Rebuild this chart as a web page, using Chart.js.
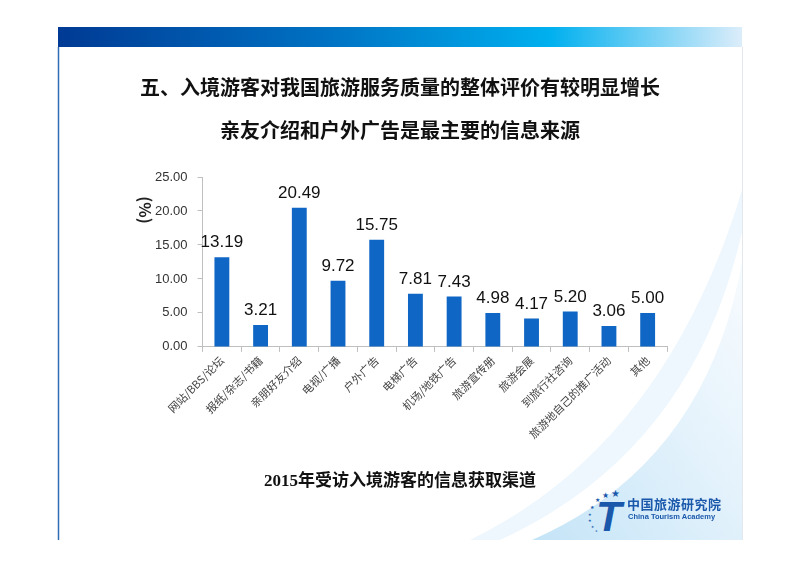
<!DOCTYPE html>
<html>
<head>
<meta charset="utf-8">
<script src="https://cdn.jsdelivr.net/npm/chart.js@4"></script>
<style>
  html, body { margin: 0; padding: 0; background: #fff; }
  #page { position: relative; width: 800px; height: 565px; overflow: hidden; font-family: "Noto Sans CJK SC", sans-serif; }
  #bg { position: absolute; left: 0; top: 0; }
  #chartBox { position: absolute; left: 0; top: 0; width: 800px; height: 565px; }
  .title { position: absolute; left: 0; width: 800px; text-align: center; font-size: 20px; font-weight: 700; color: #111; }
  #caption { position: absolute; left: 0; width: 800px; top: 466px; text-align: center; font-family: "Liberation Serif", "Noto Sans CJK SC", serif; font-size: 17px; font-weight: 700; color: #111; }
  #ytitle { position: absolute; left: 128px; top: 199px; width: 36px; height: 22px; transform: rotate(90deg); font-size: 16px; font-weight: 700; color: #222; text-align: center; line-height: 22px; }
  #logoCn { position: absolute; left: 627px; top: 494px; font-size: 13px; font-weight: 700; color: #1a58ab; letter-spacing: 0.5px; }
  #logoEn { position: absolute; left: 628px; top: 512px; font-family: "Liberation Sans", Arial, sans-serif; font-size: 7.5px; font-weight: 700; color: #1a58ab; }
</style>
</head>
<body>
<div id="page">
  <svg id="bg" width="800" height="565">
    <defs>
      <linearGradient id="topBar" x1="0" x2="1" y1="0" y2="0">
        <stop offset="0" stop-color="#003a94"/>
        <stop offset="0.4" stop-color="#0073c4"/>
        <stop offset="0.72" stop-color="#00b0ef"/>
        <stop offset="1" stop-color="#dcedfa"/>
      </linearGradient>
      <linearGradient id="swoosh" x1="0" x2="1" y1="1" y2="0">
        <stop offset="0" stop-color="#c4e4f7"/>
        <stop offset="0.6" stop-color="#e6f3fc"/>
        <stop offset="1" stop-color="#f7fbfe"/>
      </linearGradient>
      <clipPath id="slide"><rect x="58" y="47" width="684" height="493"/></clipPath>
    </defs>
    <g clip-path="url(#slide)">
      <path d="M 470 540 Q 665 445 742 190 L 742 540 Z" fill="#eef7fd"/>
      <path d="M 500 540 Q 692 452 742 232 L 742 540 Z" fill="#ffffff"/>
      <path d="M 532 540 Q 706 464 742 262 L 742 540 Z" fill="url(#swoosh)"/>
    </g>
    <rect x="58" y="27" width="684" height="20" fill="url(#topBar)"/>
    <line x1="58.5" y1="47" x2="58.5" y2="540" stroke="#2f6db4" stroke-width="1.5"/>
    <line x1="742.5" y1="47" x2="742.5" y2="540" stroke="#e3e8ee" stroke-width="1"/>
    <!-- logo mark -->
    <g fill="#1a58ab">
      <text x="611" y="497" font-size="10" font-family="DejaVu Sans">★</text>
      <text x="602" y="498" font-size="8" font-family="DejaVu Sans">★</text>
      <text x="595" y="502" font-size="6" font-family="DejaVu Sans">★</text>
      <text x="590" y="509" font-size="5" font-family="DejaVu Sans">★</text>
      <text x="588" y="516" font-size="4" font-family="DejaVu Sans">★</text>
      <text x="588" y="522" font-size="4" font-family="DejaVu Sans">★</text>
      <text x="591" y="528" font-size="3.5" font-family="DejaVu Sans">★</text>
      <text x="595" y="532" font-size="3" font-family="DejaVu Sans">★</text>
      <text x="596" y="531" font-size="42" font-weight="700" font-style="italic" font-family="Liberation Sans">T</text>
    </g>
  </svg>
  <div id="chartBox"><canvas id="sourceChart"></canvas></div>
  <div class="title" style="top:72px;">五、入境游客对我国旅游服务质量的整体评价有较明显增长</div>
  <div class="title" style="top:115px;">亲友介绍和户外广告是最主要的信息来源</div>
  <div id="ytitle">(%)</div>
  <div id="caption">2015年受访入境游客的信息获取渠道</div>
  <div id="logoCn">中国旅游研究院</div>
  <div id="logoEn">China Tourism Academy</div>
</div>
<script>
const channels = ["网站/BBS/论坛", "报纸/杂志/书籍", "亲朋好友介绍", "电视/广播", "户外广告", "电梯广告",
    "机场/地铁广告", "旅游宣传册", "旅游会展", "到旅行社咨询", "旅游地自己的推广活动", "其他"];
const shares = [13.19, 3.21, 20.49, 9.72, 15.75, 7.81, 7.43, 4.98, 4.17, 5.20, 3.06, 5.00];
const yTicks = [0, 5, 10, 15, 20, 25];

// ---- value labels above the bars ----
const barValues = {
    id: "barValues",
    afterDatasetsDraw(chart) {
        const ctx = chart.ctx;
        const meta = chart.getDatasetMeta(0);
        ctx.save();
        ctx.font = "17px 'Liberation Sans', Arial, sans-serif";
        ctx.fillStyle = "#111";
        ctx.textAlign = "center";
        ctx.textBaseline = "bottom";
        meta.data.forEach(function(bar, i) {
            ctx.fillText(shares[i].toFixed(2), bar.x, bar.y - 6);
        });
        ctx.restore();
    }
};

const ctxSource = document.getElementById("sourceChart").getContext("2d");
new Chart(ctxSource, {
    type: "bar",
    data: {
        labels: channels,
        datasets: [{
            data: shares,
            backgroundColor: "#0f66c4",
            barPercentage: 0.8,
            categoryPercentage: 0.48
        }]
    },
    options: {
        responsive: true,
        maintainAspectRatio: false,
        animation: false,
        layout: { padding: { left: 145, right: 133, top: 177, bottom: 122 } },
        scales: {
            x: {
                grid: { drawOnChartArea: false, tickLength: 5, color: "#bfbfbf" },
                border: { color: "#bfbfbf" },
                ticks: {
                    maxRotation: 45,
                    minRotation: 45,
                    color: "#444",
                    padding: 2,
                    font: { family: "'Noto Sans CJK SC', sans-serif", size: 11 }
                }
            },
            y: {
                min: 0,
                max: 25,
                afterBuildTicks: function(axis) {
                    axis.ticks = yTicks.map(function(v) { return { value: v }; });
                },
                grid: { drawOnChartArea: false, tickLength: 5, color: "#bfbfbf" },
                border: { color: "#bfbfbf" },
                ticks: {
                    color: "#333",
                    padding: 10,
                    font: { family: "'Liberation Sans', Arial, sans-serif", size: 13 },
                    callback: function(v) { return Number(v).toFixed(2); }
                }
            }
        },
        plugins: {
            legend: { display: false },
            tooltip: { enabled: false }
        }
    },
    plugins: [barValues]
});
</script>
</body>
</html>
